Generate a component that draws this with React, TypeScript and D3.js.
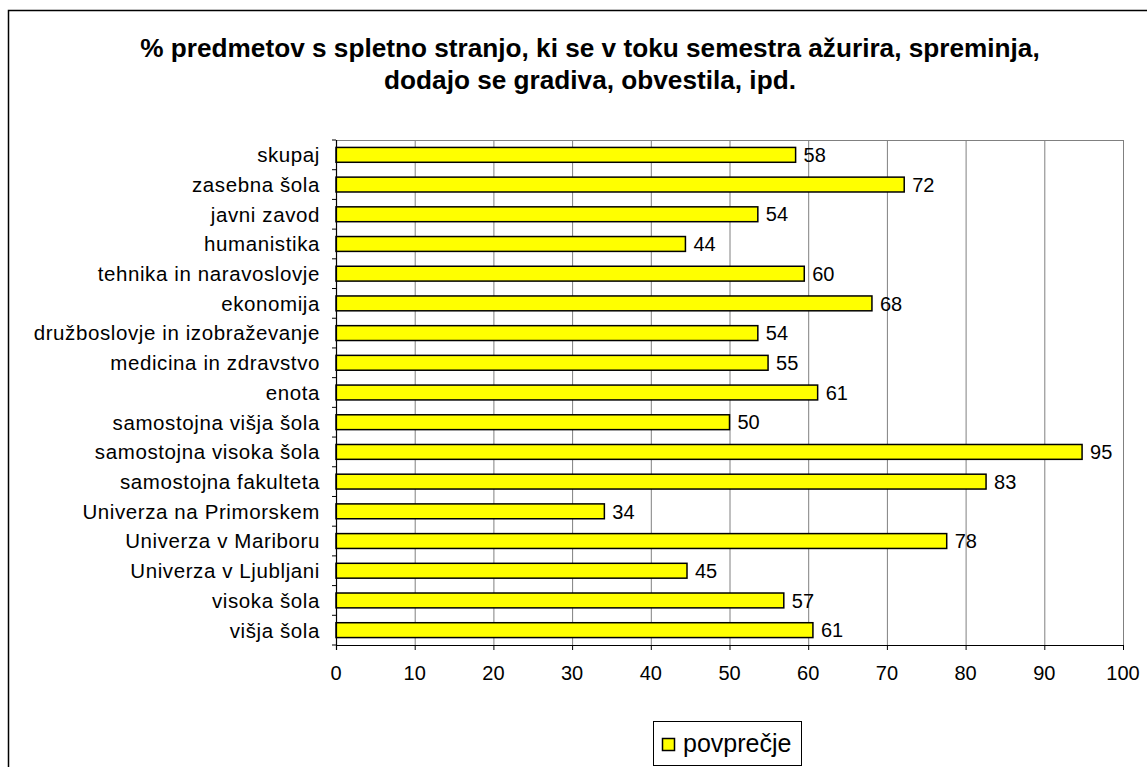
import React from "react"
import * as d3 from "d3"

// data
const categories = [
  "skupaj",
  "zasebna šola",
  "javni zavod",
  "humanistika",
  "tehnika in naravoslovje",
  "ekonomija",
  "družboslovje in izobraževanje",
  "medicina in zdravstvo",
  "enota",
  "samostojna višja šola",
  "samostojna visoka šola",
  "samostojna fakulteta",
  "Univerza na Primorskem",
  "Univerza v Mariboru",
  "Univerza v Ljubljani",
  "visoka šola",
  "višja šola",
]
const values = [58.4, 72.2, 53.6, 44.4, 59.5, 68.1, 53.6, 54.9, 61.2, 50.0, 94.8, 82.6, 34.1, 77.6, 44.6, 56.9, 60.6]
const xTicks = [0, 10, 20, 30, 40, 50, 60, 70, 80, 90, 100]
const titleLines = [
  "% predmetov s spletno stranjo, ki se v toku semestra ažurira, spreminja,",
  "dodajo se gradiva, obvestila, ipd.",
]
const seriesName = "povprečje"

const W = 1147
const H = 767
const font = "'Liberation Sans', Arial, sans-serif"

export default function App() {
  const left = 336
  const right = 1123
  const top = 140
  const bottom = 645

  const x = d3.scaleLinear().domain([0, 100]).range([left, right])
  const y = d3
    .scaleBand()
    .domain(categories)
    .range([top, bottom])
    .paddingInner(0.5)
    .paddingOuter(0.25)

  const step = y.step()
  const bounds = d3.range(categories.length + 1).map((i) => top + i * step)

  return (
    <svg
      width={W}
      height={H}
      style={{ position: "fixed", left: 0, top: 0, background: "#fff" }}
      fontFamily={font}
    >
      <rect x={8.5} y={10.5} width={1200} height={800} fill="#fff" stroke="#000" strokeWidth={1.5} />

      {titleLines.map((t, i) => (
        <text key={i} x={590} y={57 + i * 32} textAnchor="middle" fontSize={26.2} fontWeight="bold">
          {t}
        </text>
      ))}

      {/* plot frame + grid */}
      <line x1={left} x2={right} y1={top + 0.5} y2={top + 0.5} stroke="#808080" />
      {xTicks.slice(1).map((t) => (
        <line key={t} x1={x(t) + 0.5} x2={x(t) + 0.5} y1={top} y2={bottom} stroke="#808080" />
      ))}

      {/* bars */}
      {categories.map((c, i) => (
        <g key={c}>
          <rect
            x={x(0)}
            y={y(c)}
            width={x(values[i]) - x(0)}
            height={y.bandwidth()}
            fill="#ffff00"
            stroke="#000"
            strokeWidth={1.5}
          />
          <text x={x(values[i]) + 8} y={y(c)! + y.bandwidth() / 2} dy="0.36em" fontSize={20}>
            {Math.round(values[i])}
          </text>
          <text
            x={320}
            y={y(c)! + y.bandwidth() / 2}
            dy="0.36em"
            fontSize={20.5}
            letterSpacing={0.6}
            textAnchor="end"
          >
            {c}
          </text>
        </g>
      ))}

      {/* axes */}
      <line x1={left + 0.5} x2={left + 0.5} y1={top} y2={bottom + 5} stroke="#000" strokeWidth={1.2} />
      {bounds.map((b, i) => (
        <line key={i} x1={left - 4} x2={left} y1={b} y2={b} stroke="#000" />
      ))}
      <line x1={left} x2={right} y1={bottom + 0.5} y2={bottom + 0.5} stroke="#000" strokeWidth={1.2} />
      {xTicks.map((t) => (
        <g key={t}>
          <line x1={x(t) + 0.5} x2={x(t) + 0.5} y1={bottom} y2={bottom + 5} stroke="#000" />
          <text x={x(t)} y={680} textAnchor="middle" fontSize={20}>
            {t}
          </text>
        </g>
      ))}

      {/* legend */}
      <rect x={653.5} y={721.5} width={148} height={44} fill="#fff" stroke="#000" />
      <rect x={662.5} y={738.5} width={12} height={12} fill="#ffff00" stroke="#000" strokeWidth={1.5} />
      <text x={683} y={752} fontSize={25}>
        {seriesName}
      </text>
    </svg>
  )
}
